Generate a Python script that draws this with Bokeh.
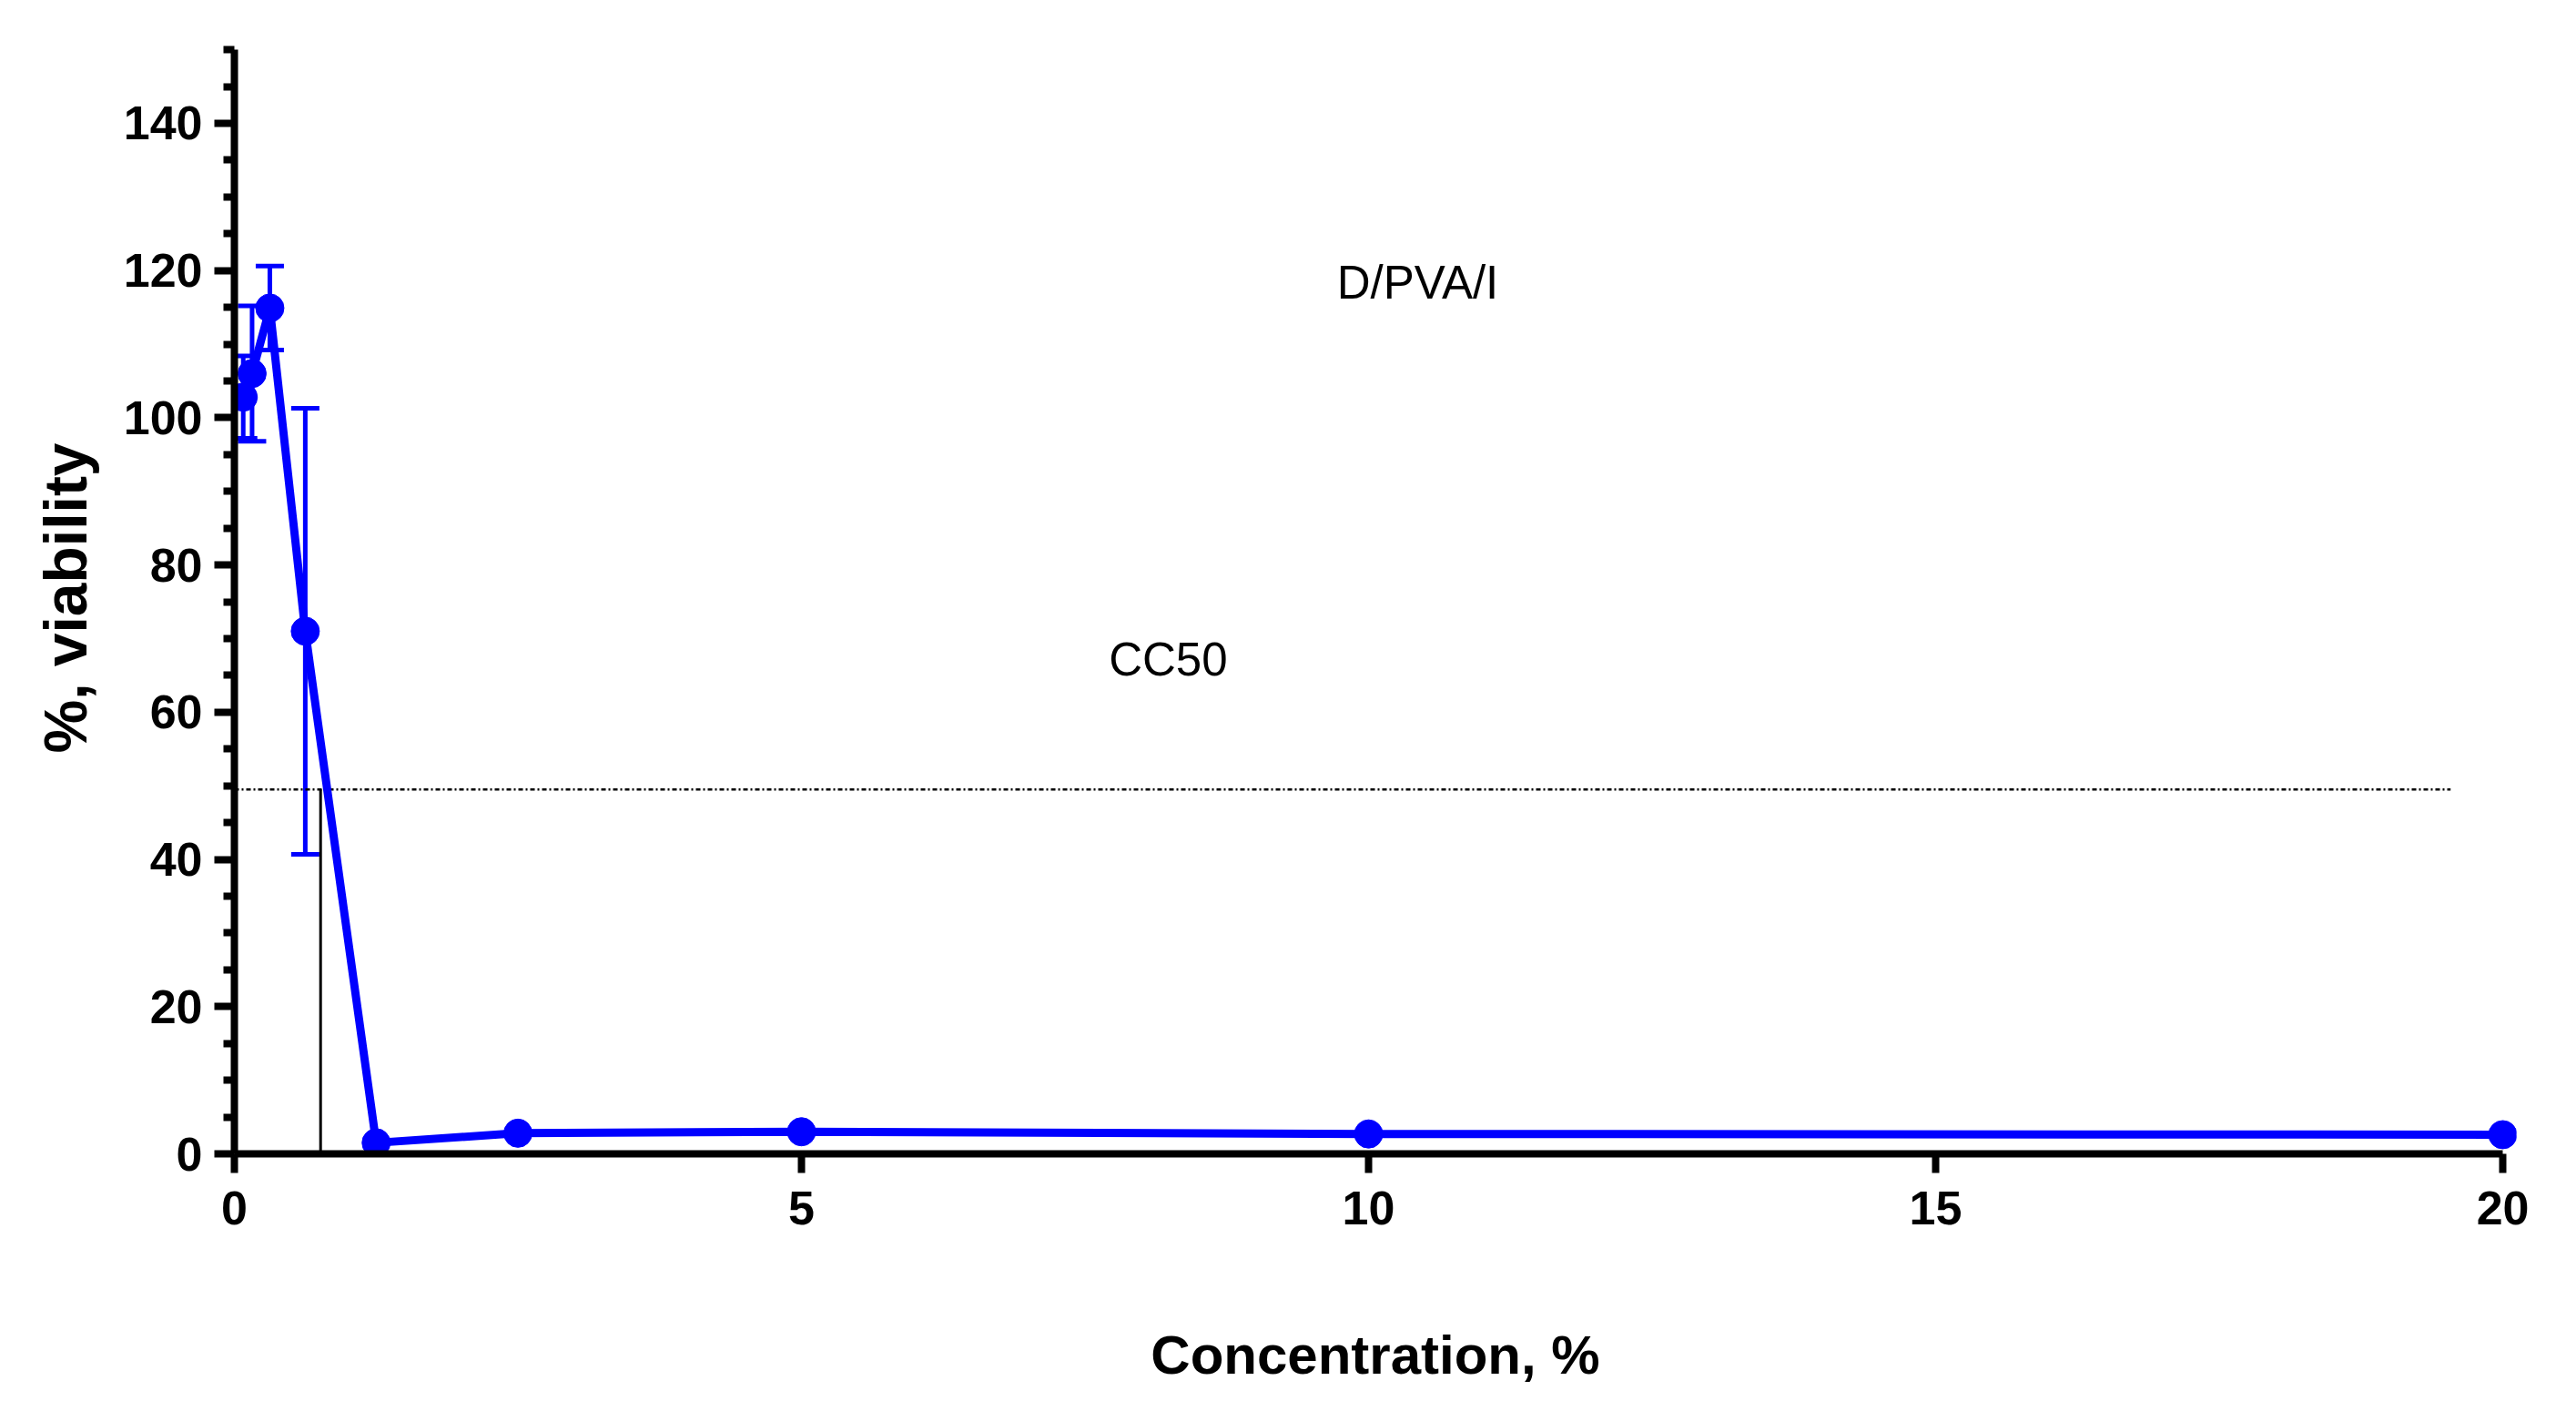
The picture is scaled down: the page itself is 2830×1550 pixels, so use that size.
from bokeh.plotting import figure
from bokeh.models import ColumnDataSource, Range1d, FixedTicker, Whisker, TeeHead
from bokeh.core.properties import value
from bokeh.embed import file_html
from bokeh.resources import INLINE

# concentration (%) vs mean viability (%) and SD
conc = [0.078, 0.156, 0.3125, 0.625, 1.25, 2.5, 5, 10, 20]
viability = [102.8, 106.0, 114.9, 71.0, 1.5, 2.8, 3.0, 2.7, 2.6]
sd = [5.6, 9.2, 5.7, 30.3, 0, 0, 0, 0, 0]

cc50_conc = 0.76
cc50_level = 49.5
cc50_line_end = 19.54

x_ticks = [0, 5, 10, 15, 20]
y_ticks = [0, 20, 40, 60, 80, 100, 120, 140]
y_minor = [v for v in range(5, 155, 5) if v not in y_ticks]

labels = ["D/PVA/I", "CC50"]
label_x = [9.72, 7.71]
label_y = [118.3, 67.1]

FONT = "Liberation Sans"
BLUE = "#0000FF"

# axes sit on the frame edges; the extra room right/top keeps the end marker whole
p = figure(width=2830, height=1550,
           x_range=Range1d(0, 20.12), y_range=Range1d(0, 151),
           output_backend="svg", toolbar_location=None,
           min_border_left=257, min_border_right=66,
           min_border_top=46, min_border_bottom=283)
p.grid.visible = False
p.outline_line_color = None
p.background_fill_color = "white"
p.border_fill_color = "white"

for ax in (p.xaxis[0], p.yaxis[0]):
    ax.axis_line_width = 8
    ax.axis_line_color = "black"
    ax.major_tick_line_width = 8
    ax.minor_tick_line_width = 8
    ax.major_tick_in = 0
    ax.minor_tick_in = 0
    ax.major_label_text_font = FONT
    ax.major_label_text_font_style = "bold"
    ax.major_label_text_font_size = "52px"
    ax.major_label_text_color = "black"
    ax.axis_label_text_font = FONT
    ax.axis_label_text_font_style = "bold"
    ax.axis_label_text_color = "black"

xa = p.xaxis[0]
xa.bounds = (0, 20)
xa.ticker = FixedTicker(ticks=x_ticks)
xa.major_tick_out = 21
xa.minor_tick_out = 0
xa.major_label_standoff = 20
xa.axis_label = "Concentration, %"
xa.axis_label_text_font_size = "60px"
xa.axis_label_standoff = 107

ya = p.yaxis[0]
ya.bounds = (0, 150)
ya.ticker = FixedTicker(ticks=y_ticks, minor_ticks=y_minor)
ya.major_tick_out = 22
ya.minor_tick_out = 12
ya.major_label_standoff = 13
ya.axis_label = "%, viability"
ya.axis_label_text_font_size = "66px"
ya.axis_label_standoff = 24

# CC50 guide lines
p.segment(x0=[0], y0=[cc50_level], x1=[cc50_line_end], y1=[cc50_level],
          line_color="black", line_width=2.5, line_dash="5 3 2 3")
p.segment(x0=[cc50_conc], y0=[0], x1=[cc50_conc], y1=[cc50_level],
          line_color="black", line_width=3)

# error bars (only where SD is visible)
err = ColumnDataSource(dict(
    x=[c for c, s in zip(conc, sd) if s > 0],
    upper=[v + s for v, s in zip(viability, sd) if s > 0],
    lower=[v - s for v, s in zip(viability, sd) if s > 0],
))
p.add_layout(Whisker(source=err, base="x", upper="upper", lower="lower",
                     dimension="height", line_color=BLUE, line_width=5,
                     level="underlay",
                     upper_head=TeeHead(size=31, line_color=BLUE, line_width=5),
                     lower_head=TeeHead(size=31, line_color=BLUE, line_width=5)))

src = ColumnDataSource(dict(x=conc, y=viability))
p.line("x", "y", source=src, line_color=BLUE, line_width=9)
p.scatter("x", "y", source=src, size=31, fill_color=BLUE, line_color=BLUE)

p.text(x=label_x, y=label_y, text=labels, text_font=value(FONT),
       text_font_size="51px", text_color="black",
       text_align="left", text_baseline="alphabetic")

open("out.html", "w").write(file_html(p, INLINE))
